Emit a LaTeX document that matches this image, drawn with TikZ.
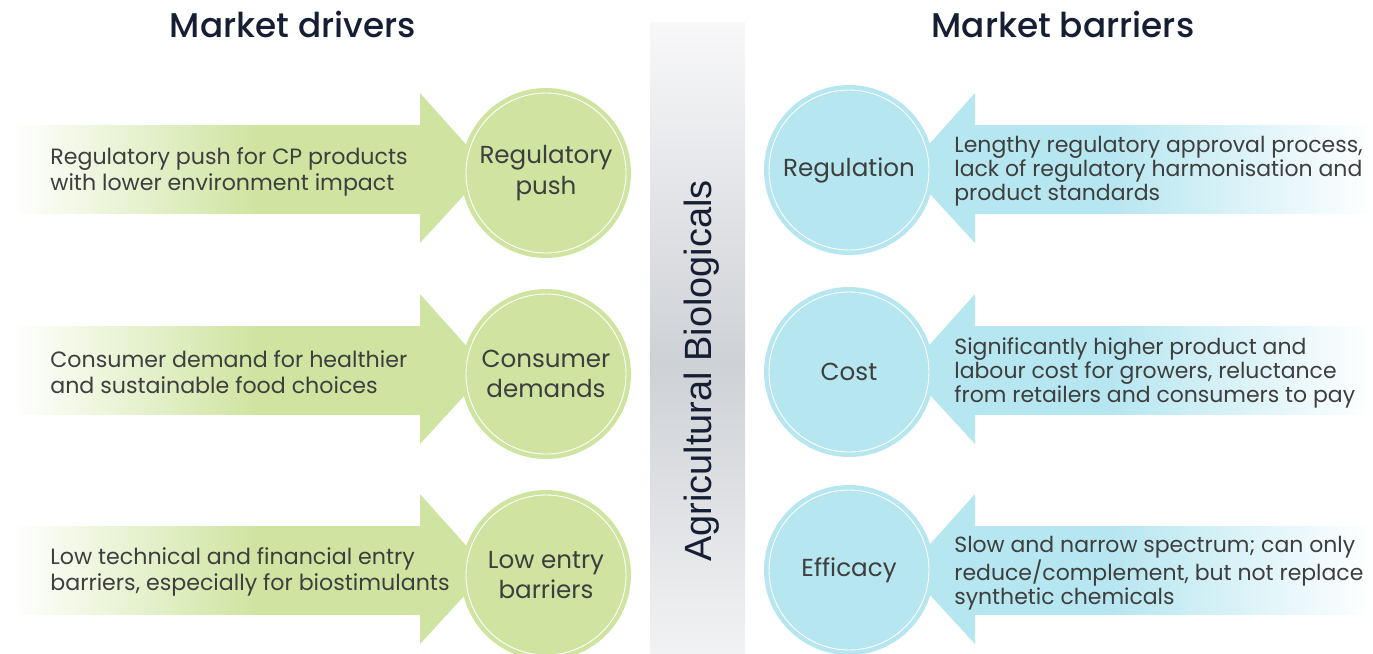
\documentclass[tikz,border=0pt]{standalone}
\usepackage{fontspec}
\setmainfont{Poppins}
\newfontfamily\headfont{Poppins Medium}
\newfontfamily\bandfont{Liberation Sans}
\usetikzlibrary{positioning}
\definecolor{drivegreen}{RGB}{207,228,160}
\definecolor{barrierblue}{RGB}{182,230,240}
\definecolor{navy}{RGB}{22,30,52}
\definecolor{txtgrey}{RGB}{62,62,62}
\definecolor{bandgrey}{RGB}{206,209,214}
\definecolor{bandtop}{RGB}{248,248,249}
\definecolor{bandbottom}{RGB}{241,242,243}
\pgfdeclarehorizontalshading{drivefade}{100bp}{color(0bp)=(white); color(25bp)=(white); color(55bp)=(drivegreen); color(100bp)=(drivegreen)}
\pgfdeclarehorizontalshading{barrierfade}{100bp}{color(0bp)=(barrierblue); color(42bp)=(barrierblue); color(75bp)=(white); color(100bp)=(white)}
\pgfdeclareverticalshading{bandfade}{100bp}{color(0bp)=(bandbottom); color(25bp)=(bandbottom); color(48bp)=(bandgrey); color(75bp)=(bandtop); color(100bp)=(bandtop)}
\tikzstyle{bubble} = [circle, draw=white, line width=0.5pt, minimum size=3.2cm, inner sep=0pt,
  align=center, text=txtgrey, font=\fontsize{14}{17.2}\selectfont]
\tikzstyle{drivebubble} = [bubble, fill=drivegreen, preaction={draw=drivegreen, line width=0.2cm}]
\tikzstyle{barrierbubble} = [bubble, fill=barrierblue, preaction={draw=barrierblue, line width=0.2cm}]
\tikzstyle{drivetext} = [anchor=west, align=left, inner sep=0pt, text=txtgrey, font=\fontsize{12.6}{14.8}\selectfont]
\tikzstyle{barriertext} = [anchor=west, align=left, inner sep=0pt, text=txtgrey, font=\fontsize{12.5}{13.7}\selectfont]
\tikzstyle{heading} = [text=navy, font=\headfont\fontsize{19.5}{22}\selectfont]

\begin{document}
\begin{tikzpicture}[x=0.02cm,y=-0.02cm]
		\useasboundingbox (0,0) rectangle (1373,653);

		% define constants
		\def \rowa {169}
		\def \rowb {370}
		\def \rowc {570}

		% headings
		\node [heading] (drivers) at (293,24) {Market drivers};
		\node [heading] (barriers) at (1063,24) {Market barriers};

		% centre band
		\shade [shading=bandfade] (650,22) rectangle (745,653);
		\node [rotate=90, text=navy, font=\bandfont\fontsize{21.6}{24}\selectfont] (biologicals) at (702,371) {Agricultural Biologicals};

		% driver arrows
		\foreach \y in {\rowa,\rowb,\rowc} {
			\shade [shading=drivefade] (12,\y-44) rectangle (421,\y+44);
			\fill [drivegreen] (420,\y-76) -- (488,\y) -- (420,\y+74) -- cycle;
		}

		% barrier arrows
		\foreach \y in {\rowa,\rowb,\rowc} {
			\shade [shading=barrierfade] (974,\y-44) rectangle (1373,\y+44);
			\fill [barrierblue] (975,\y-76) -- (907,\y) -- (975,\y+74) -- cycle;
		}

		% driver bubbles
		\node [drivebubble] (regpush) at (546,\rowa+4) {Regulatory\\push};
		\node [drivebubble] (consumer) at (546,\rowb+4) {Consumer\\demands};
		\node [drivebubble] (lowentry) at (546,\rowc+5) {Low entry\\barriers};

		% barrier bubbles
		\node [barrierbubble] (regulation) at (849,\rowa+1) {Regulation};
		\node [barrierbubble] (cost) at (849,\rowb+2) {Cost};
		\node [barrierbubble] (efficacy) at (849,\rowc) {Efficacy};

		% driver texts
		\node [drivetext] (regpushtxt) at (50,\rowa+3) {Regulatory push for CP products\\with lower environment impact};
		\node [drivetext] (consumertxt) at (50,\rowb+2) {Consumer demand for healthier\\and sustainable food choices};
		\node [drivetext] (lowentrytxt) at (50,\rowc+2) {Low technical and financial entry\\barriers, especially for biostimulants};

		% barrier texts
		\node [barriertext] (regulationtxt) at (954,\rowa+2) {Lengthy regulatory approval process,\\lack of regulatory harmonisation and\\product standards};
		\node [barriertext] (costtxt) at (954,\rowb+3) {Significantly higher product and\\labour cost for growers, reluctance\\from retailers and consumers to pay};
		\node [barriertext] (efficacytxt) at (954,\rowc+3) {Slow and narrow spectrum; can only\\reduce/complement, but not replace\\synthetic chemicals};
\end{tikzpicture}
\end{document}
